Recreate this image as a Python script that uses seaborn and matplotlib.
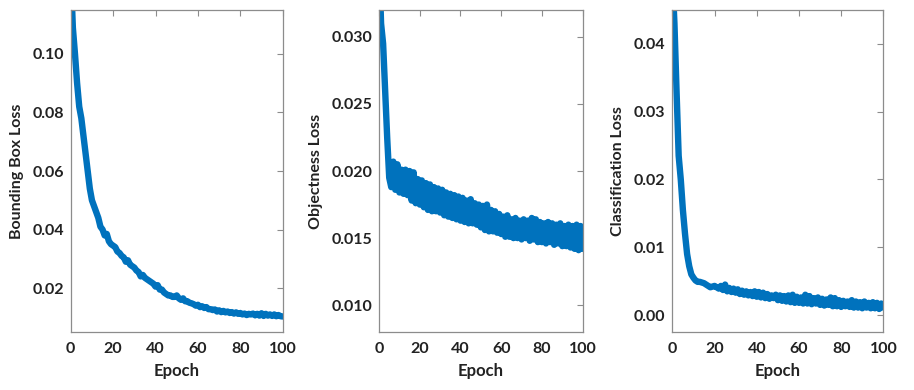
import numpy as np
import pandas as pd
import matplotlib
matplotlib.use("Agg")
import matplotlib.pyplot as plt
import seaborn as sns

# Loss values per epoch
epochs = list(range(0, 101))

bbox_loss = [
    0.128, 0.109, 0.100, 0.090, 0.082, 0.078, 0.072, 0.066, 0.060, 0.054,
    0.050, 0.048, 0.046, 0.044, 0.041, 0.040, 0.038, 0.0385, 0.036, 0.035,
    0.0345, 0.034, 0.0325, 0.032, 0.031, 0.0305, 0.029, 0.0295, 0.028, 0.0275,
    0.027, 0.026, 0.0255, 0.024, 0.0245, 0.0235, 0.023, 0.0225, 0.022, 0.0215,
    0.0205, 0.021, 0.0195, 0.0195, 0.0185, 0.018, 0.0175, 0.0175, 0.017, 0.017,
    0.0175, 0.0165, 0.016, 0.0165, 0.0155, 0.0155, 0.015, 0.0148, 0.0145, 0.014,
    0.0143, 0.0135, 0.0138, 0.0132, 0.0135, 0.0128, 0.0128, 0.0125, 0.0127, 0.012,
    0.0124, 0.0118, 0.0122, 0.0117, 0.012, 0.0115, 0.0118, 0.0113, 0.0117, 0.0112,
    0.0115, 0.011, 0.0113, 0.0108, 0.0112, 0.011, 0.0113, 0.0107, 0.0112, 0.0106,
    0.0114, 0.0105, 0.0112, 0.0106, 0.011, 0.0105, 0.011, 0.0104, 0.0108, 0.0104,
    0.0103,
]

obj_loss = [
    0.036, 0.031, 0.0295, 0.026, 0.0225, 0.0195, 0.0188, 0.0207, 0.0186, 0.0205,
    0.0184, 0.0201, 0.0183, 0.0201, 0.0182, 0.0200, 0.0178, 0.0199, 0.0176, 0.0194,
    0.0175, 0.0193, 0.0173, 0.0191, 0.0171, 0.0190, 0.0170, 0.0188, 0.0170, 0.0187,
    0.0169, 0.0186, 0.0167, 0.0184, 0.0166, 0.0183, 0.0165, 0.0182, 0.0164, 0.0181,
    0.0163, 0.0180, 0.0162, 0.0178, 0.0161, 0.0179, 0.0161, 0.0176, 0.0160, 0.0175,
    0.0158, 0.0174, 0.0156, 0.0175, 0.0155, 0.0171, 0.0155, 0.0170, 0.0154, 0.0168,
    0.0153, 0.0166, 0.0151, 0.0167, 0.0151, 0.0164, 0.0150, 0.0165, 0.0150, 0.0163,
    0.0149, 0.0164, 0.0150, 0.0163, 0.0148, 0.0165, 0.0149, 0.0164, 0.0147, 0.0162,
    0.0147, 0.0161, 0.0146, 0.0162, 0.0147, 0.0161, 0.0145, 0.0160, 0.0146, 0.0161,
    0.0144, 0.0159, 0.0144, 0.0160, 0.0143, 0.0159, 0.0142, 0.0160, 0.0141, 0.0159,
    0.0142,
]

cls_loss = [
    0.050, 0.043, 0.033, 0.0235, 0.020, 0.0155, 0.0120, 0.0090, 0.0072, 0.0060,
    0.0055, 0.0051, 0.0049, 0.0049, 0.0048, 0.0047, 0.0045, 0.0043, 0.0041, 0.0042,
    0.0043, 0.0041, 0.0039, 0.0043, 0.0037, 0.0045, 0.0035, 0.0040, 0.0034, 0.0039,
    0.0033, 0.0038, 0.0031, 0.0036, 0.0030, 0.0035, 0.0029, 0.0034, 0.0028, 0.0035,
    0.0027, 0.0034, 0.0026, 0.0033, 0.0025, 0.0031, 0.0024, 0.0029, 0.0025, 0.0030,
    0.0022, 0.0029, 0.0021, 0.0028, 0.0020, 0.0029, 0.0019, 0.0030, 0.0018, 0.0027,
    0.0018, 0.0026, 0.0017, 0.0030, 0.0017, 0.0028, 0.0016, 0.0025, 0.0017, 0.0026,
    0.0015, 0.0024, 0.0014, 0.0023, 0.0015, 0.0026, 0.0013, 0.0025, 0.0013, 0.0022,
    0.0012, 0.0021, 0.0013, 0.0020, 0.0012, 0.0022, 0.0011, 0.0020, 0.0011, 0.0019,
    0.0010, 0.0020, 0.0011, 0.0018, 0.0010, 0.0019, 0.0010, 0.0018, 0.0009, 0.0017,
    0.0011,
]

panels = [
    ("Bounding Box Loss", bbox_loss, (0.005, 0.115), [0.02, 0.04, 0.06, 0.08, 0.10], "%.2f"),
    ("Objectness Loss", obj_loss, (0.008, 0.032), [0.010, 0.015, 0.020, 0.025, 0.030], "%.3f"),
    ("Classification Loss", cls_loss, (-0.0025, 0.045), [0.00, 0.01, 0.02, 0.03, 0.04], "%.2f"),
]

# axes boxes in figure fractions [left, bottom, width, height]
boxes = [
    [0.0774, 0.1487, 0.2319, 0.8256],
    [0.4147, 0.1487, 0.2228, 0.8256],
    [0.7356, 0.1487, 0.2309, 0.8256],
]

sns.set_style("white")
plt.rcParams["font.family"] = ["Lato", "DejaVu Sans"]
plt.rcParams["font.weight"] = "bold"

line_color = "#0072BD"
spine_color = "#8c8c8c"

fig = plt.figure(figsize=(9.14, 3.9), dpi=100)

for (label, values, ylim, yticks, fmt), box in zip(panels, boxes):
    ax = fig.add_axes(box)
    df = pd.DataFrame({"Epoch": epochs, "Loss": values})
    sns.lineplot(data=df, x="Epoch", y="Loss", ax=ax, color=line_color,
                 linewidth=4.6, solid_joinstyle="round")
    ax.set_xlim(0, 100)
    ax.set_ylim(*ylim)
    ax.set_xticks([0, 20, 40, 60, 80, 100])
    ax.set_yticks(yticks)
    ax.yaxis.set_major_formatter(matplotlib.ticker.FormatStrFormatter(fmt))
    ax.tick_params(direction="in", length=4, width=0.8, color=spine_color,
                   top=True, right=True, labelsize=11.5, labelcolor="#222222")
    ax.tick_params(axis="x", pad=7)
    ax.tick_params(axis="y", pad=5)
    for s in ax.spines.values():
        s.set_color(spine_color)
        s.set_linewidth(0.9)
    ax.set_xlabel("Epoch", fontsize=12, fontweight="bold", color="#222222", labelpad=5)
    ax.set_ylabel(label, fontsize=11.5, fontweight="bold", color="#222222", labelpad=6)
    for t in ax.get_xticklabels() + ax.get_yticklabels():
        t.set_fontweight("bold")

fig.savefig("out.png", dpi=100)
